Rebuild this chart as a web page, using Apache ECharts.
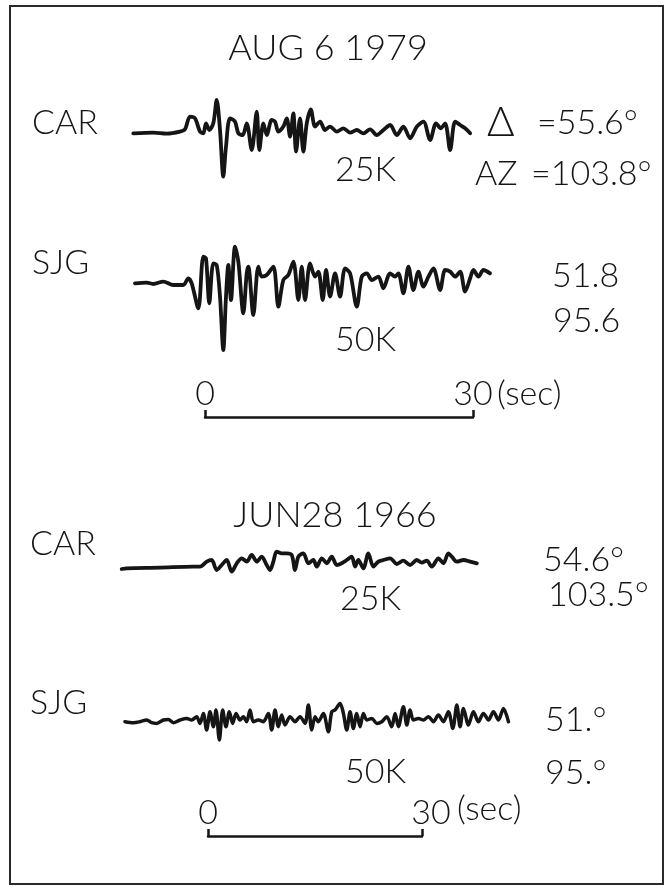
<!DOCTYPE html>
<html>
<head>
<meta charset="utf-8">
<script src="https://cdn.jsdelivr.net/npm/echarts@6/dist/echarts.min.js"></script>
<style>
  html, body { margin: 0; padding: 0; background: #fff; }
  #chart { width: 668px; height: 887px; }
</style>
</head>
<body>
<div id="chart"></div>
<script>
// ---- labels ----
const eventDates = ['AUG 6 1979', 'JUN28 1966'];
const stations = ['CAR', 'SJG', 'CAR', 'SJG'];
const gains = ['25K', '50K', '25K', '50K'];
const distLabels = ['=55.6°', '51.8', '54.6°', '51.°'];
const azLabels = ['=103.8°', '95.6', '103.5°', '95.°'];
const scaleTicks = [0, 30];
const scaleUnit = '(sec)';

// ---- Event of AUG 6 1979 : time (s) and trace deflection ----
const carAugT = [-8.03, -5.79, -4.29, -2.80, -2.24, -1.68, -1.12, -0.56, -0.19, 0.11, 0.48, 0.93, 1.31, 1.68, 2.05, 2.35, 2.80, 3.36, 3.73, 4.22, 4.67, 5.23, 5.79, 6.08, 6.53, 6.91, 7.47, 7.84, 8.21, 8.77, 9.15, 9.52, 9.89, 10.19, 10.64, 11.01, 11.39, 11.84, 12.32, 12.88, 13.44, 14.00, 14.75, 15.49, 16.24, 16.99, 17.73, 18.48, 19.23, 19.97, 20.72, 21.47, 22.21, 22.96, 23.71, 24.45, 25.20, 25.87, 26.39, 26.88, 27.44, 28.00, 28.56, 29.12, 29.68];
const carAugA = [0, 0.7, -0.3, 1.7, 4, 16.7, 15, 1.7, 0, 10, 3.3, 10, 33.3, 3.3, -43.3, -13.3, 15, 11.7, 0, -1.7, 10, -16.7, 21.7, -16.7, 10, -1.7, 13.3, 11.7, 1.7, 6.7, 15, -3.3, 20, -18.3, 15, -18.3, 10, 24, 6.7, 11.7, 3.3, 6.7, 1.7, 5, 0.7, 3.3, 0, 4, -1.7, 3.3, 8.3, -1.7, 6.7, -5, 6.7, 11.7, -6.7, 10, 5, 10, -16.7, 11.7, 8.3, 5, 0];

const sjgAugT = [-7.84, -6.53, -5.79, -4.67, -3.55, -2.43, -1.87, -1.49, -0.75, -0.19, 0.11, 0.48, 0.93, 1.31, 1.68, 2.05, 2.35, 2.61, 2.91, 3.36, 3.73, 4.29, 4.67, 4.85, 5.41, 5.97, 6.35, 6.91, 7.65, 8.21, 8.77, 9.33, 9.89, 10.45, 10.83, 11.20, 11.76, 12.32, 12.69, 13.18, 13.55, 14.00, 14.56, 15.12, 15.68, 16.24, 16.99, 17.55, 18.11, 18.67, 19.41, 19.97, 20.72, 21.28, 21.65, 22.21, 22.77, 23.33, 23.89, 24.45, 25.01, 25.57, 26.32, 26.88, 27.44, 28.00, 28.56, 29.12, 29.68, 30.05, 30.61, 31.17, 31.91];
const sjgAugA = [0, 0.7, -0.7, 1.7, -1.7, -1.7, 5, 0, -25, 26.7, 25, -20, 20, 18.3, -13.3, -66.7, -13.3, 18.3, -16.7, 36.7, 21.7, -30, 10, 16.7, -31.7, 16.7, 6.7, 8.3, 16.7, -23.3, 3.3, 8.3, 21.7, -16.7, 16.7, -16.7, 20, 6.7, 11.7, -16.7, 13.3, -13.3, 10, -13.3, 15, 10, -23.3, 6.7, 10, 3.3, 6.7, -5, 10, 6.7, 10, -10, 16.7, -6.7, 11.7, -3.3, 6.7, 15, -6.7, 13.3, 11.7, 6.7, 11.7, -8.3, 5, 13.3, 6.7, 13.3, 10];

// ---- Event of JUN28 1966 ----
const carJunT = [-12.10, -11.40, -6.73, -2.06, -1.12, -0.18, 0.52, 1.22, 1.92, 2.62, 3.32, 4.03, 4.73, 5.43, 6.13, 6.83, 7.53, 8.23, 8.70, 9.16, 9.63, 10.34, 11.04, 11.74, 12.20, 12.67, 13.37, 14.07, 14.77, 15.25, 15.95, 16.65, 17.35, 18.05, 18.75, 19.45, 20.15, 20.62, 21.08, 21.78, 22.48, 23.18, 23.89, 24.59, 25.53, 26.47, 27.39, 28.33, 29.27, 29.97, 30.67, 31.37, 32.30, 33.00, 33.70, 34.18, 34.88, 35.81, 36.75, 37.69];
const carJunA = [-0.7, 0, 0.7, 1.7, 1.7, 6.7, 8.3, -1.7, 3.3, 8.3, -3.3, 5, 10, 6.7, 13.3, 6.7, 11.7, 3.3, -1.7, 6.7, 16.7, 15, 15, 13.3, -1.7, 11.7, 15, 5, 8.3, 1.7, 10, 5, 11.7, 3.3, 5, 8.3, 11.7, 1.7, 8.3, 0, 15, 1.7, 6.7, 8.3, 10, 4.3, 7.7, 3.3, 8.3, 5.7, 7.7, 1.7, 10, 5, 15, 11.7, 6.7, 8.3, 6.7, 5];

const sjgJunT = [-11.64, -10.47, -9.54, -8.60, -7.90, -7.20, -6.26, -5.56, -4.86, -3.93, -2.99, -2.29, -1.59, -1.12, -0.65, -0.19, 0.28, 0.75, 1.12, 1.59, 2.06, 2.52, 2.99, 3.46, 3.93, 4.49, 4.96, 5.42, 5.89, 6.36, 7.06, 7.76, 8.46, 8.93, 9.40, 9.86, 10.33, 10.80, 11.50, 12.20, 12.90, 13.60, 14.07, 14.54, 15.01, 15.47, 16.17, 16.87, 17.35, 17.81, 18.51, 18.98, 19.45, 19.92, 20.38, 20.85, 21.32, 21.78, 22.26, 22.96, 23.66, 24.36, 25.06, 25.76, 26.23, 26.69, 27.39, 27.87, 28.33, 28.79, 29.50, 30.20, 30.90, 31.60, 32.30, 33.00, 33.70, 34.32, 34.88, 35.34, 35.81, 36.51, 37.21, 37.91, 38.61, 39.32, 40.01, 40.72, 41.42, 42.12];
const sjgJunA = [0, -1, 0, 1.7, -1, -1.7, 1.7, 2.3, -1, 1.7, 3.3, 1.7, 5, -1.7, 8.3, -8.3, 10, -5, 11.7, -18.3, 11.7, -5, 10, -1.7, 8.3, 1.7, 5, 0, 11.7, 0, 1.7, 0, 8.3, -8.3, 11.7, -5, 6.7, -3.3, 5, 0, 5, -1.7, 16.7, -8.3, 5, 0, 8.3, -10, 10, 11.7, 18.3, 8.3, -8.3, 10, -6.7, 8.3, -5, 8.3, 1.7, 3.3, -1.7, 0, 5, -5, 8.3, -5, 15, -3.3, 11.7, 1.7, 3.3, 1.7, 5, 0, 6.7, 0, 10, -6.7, 16.7, -5, 13.3, -3.3, 10, 0, 8.3, 1.7, 10, 1.7, 13.3, 0];

const traces = [
  [carAugT, carAugA],
  [sjgAugT, sjgAugA],
  [carJunT, carJunA],
  [sjgJunT, sjgJunA]
];

// ---- layout ----
const INK = '#151515';
const FONT = 'Lato, "DejaVu Sans", sans-serif';
const FW = 300;
const FS = 34;

// time scale: upper event 268 px / 30 s, lower event 214 px / 30 s
const upperZero = 205, upperPx = 268 / 30;
const lowerZero = 208, lowerPx = 214 / 30;
const upperRange = [-10, 35];
const lowerRange = [-15, 45];

// baseline y, half-height and pen width of each trace panel
const panels = [
  { zero: upperZero, px: upperPx, range: upperRange, base: 133.3, half: 55, pen: 3.8 },
  { zero: upperZero, px: upperPx, range: upperRange, base: 283.3, half: 75, pen: 3.8 },
  { zero: lowerZero, px: lowerPx, range: lowerRange, base: 568.3, half: 30, pen: 3.8 },
  { zero: lowerZero, px: lowerPx, range: lowerRange, base: 721.7, half: 30, pen: 3.5 }
];

const grid = [], xAxis = [], yAxis = [], series = [];

panels.forEach((p, i) => {
  grid.push({
    left: p.zero + p.range[0] * p.px,
    width: (p.range[1] - p.range[0]) * p.px,
    top: p.base - p.half,
    height: p.half * 2
  });
  xAxis.push({ gridIndex: i, type: 'value', min: p.range[0], max: p.range[1], show: false });
  yAxis.push({ gridIndex: i, type: 'value', min: -p.half, max: p.half, show: false });
  const [T, A] = traces[i];
  series.push({
    type: 'line',
    xAxisIndex: i,
    yAxisIndex: i,
    data: T.map((t, k) => [t, A[k]]),
    symbol: 'none',
    smooth: 0.3,
    silent: true,
    lineStyle: { color: INK, width: p.pen, join: 'round', cap: 'round' }
  });
});

// 0-30 s scale bars; the lower "30" sits a little right of its tick
const bars = [
  { left: upperZero, width: 30 * upperPx, axisY: 417, shift: 0 },
  { left: lowerZero, width: 30 * lowerPx, axisY: 836, shift: 18 }
];
bars.forEach((b) => {
  const gi = grid.length;
  grid.push({ left: b.left, width: b.width, top: b.axisY - 40, height: 40 });
  xAxis.push({
    gridIndex: gi, type: 'value', min: scaleTicks[0], max: scaleTicks[1],
    interval: scaleTicks[1] - scaleTicks[0],
    axisLine: { show: true, onZero: false, lineStyle: { color: INK, width: 2.5 } },
    axisTick: { show: true, inside: true, length: 7, lineStyle: { color: INK, width: 2.5 } },
    axisLabel: {
      show: true, inside: true, margin: 6, showMinLabel: true, showMaxLabel: true,
      formatter: (v) => (v === scaleTicks[1] ? '{r|' + v + '}' : '{l|' + v + '}'),
      rich: {
        l: { color: INK, fontSize: FS, fontFamily: FONT, fontWeight: FW },
        r: { color: INK, fontSize: FS, fontFamily: FONT, fontWeight: FW, padding: [0, 0, 0, b.shift] }
      }
    },
    splitLine: { show: false }
  });
  yAxis.push({ gridIndex: gi, type: 'value', min: 0, max: 1, show: false });
});

// text labels
function txt(text, x, y, align, size) {
  return {
    type: 'text', silent: true,
    style: { text: text, x: x, y: y, fill: INK, fontSize: size || FS, fontFamily: FONT, fontWeight: FW,
             textAlign: align || 'left', textVerticalAlign: 'middle' }
  };
}

const graphic = [
  { type: 'rect', silent: true, shape: { x: 10, y: 6, width: 653, height: 878 },
    style: { fill: 'none', stroke: '#2a2a2a', lineWidth: 2 } },
  txt(eventDates[0], 328, 48, 'center', 36),
  txt(eventDates[1], 335, 515, 'center', 36),
  txt(stations[0], 32, 123),
  txt(stations[1], 32, 263),
  txt(stations[2], 30, 544),
  txt(stations[3], 30, 703),
  txt(gains[0], 335, 170),
  txt(gains[1], 335, 340),
  txt(gains[2], 340, 599),
  txt(gains[3], 345, 772),
  txt('Δ', 487, 122, 'left', 42),
  txt(distLabels[0], 537, 123),
  txt('AZ', 475, 174),
  txt(azLabels[0], 531, 174),
  txt(distLabels[1], 552, 276),
  txt(azLabels[1], 553, 321),
  txt(distLabels[2], 543, 560),
  txt(azLabels[2], 548, 595),
  txt(distLabels[3], 545, 720),
  txt(azLabels[3], 545, 773),
  txt(scaleUnit, 497, 394),
  txt(scaleUnit, 457, 809)
];

const chart = echarts.init(document.getElementById('chart'), null, { renderer: 'canvas' });
chart.setOption({
  animation: false,
  backgroundColor: '#fff',
  grid: grid,
  xAxis: xAxis,
  yAxis: yAxis,
  series: series,
  graphic: graphic
});
</script>
</body>
</html>
